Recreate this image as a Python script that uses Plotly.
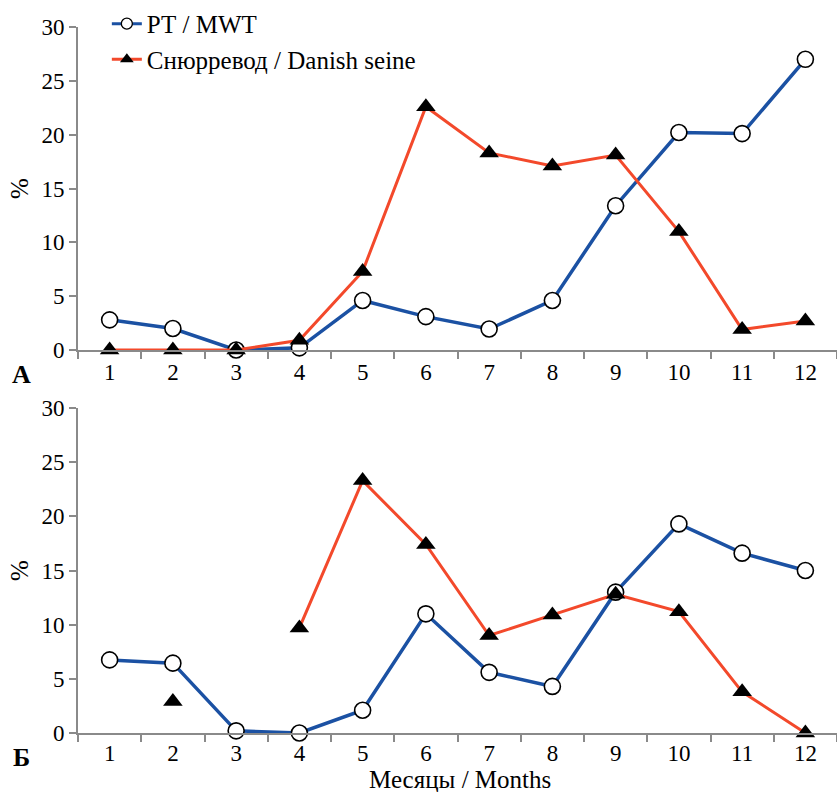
import plotly.graph_objects as go

months = ["1", "2", "3", "4", "5", "6", "7", "8", "9", "10", "11", "12"]

# Panel A
pt_a = [2.8, 2.0, 0.0, 0.2, 4.6, 3.1, 1.95, 4.6, 13.4, 20.2, 20.1, 27.0]
ds_a = [0.0, 0.0, 0.0, 0.9, 7.3, 22.6, 18.3, 17.1, 18.1, 11.0, 1.9, 2.7]

# Panel B
pt_b = [6.75, 6.45, 0.2, 0.0, 2.1, 11.0, 5.6, 4.3, 13.0, 19.3, 16.6, 15.0]
ds_b = [None, 2.9, None, 9.7, 23.3, 17.4, 9.0, 10.9, 12.8, 11.2, 3.8, 0.0]

y_ticks = [0, 5, 10, 15, 20, 25, 30]
name_pt = "РТ / MWT"
name_ds = "Снюрревод / Danish seine"
x_title = "Месяцы / Months"

BLUE = "#1b51a3"
RED = "#f3492b"
FONT = "Liberation Serif"
AXC = "#8a8a8a"

fig = go.Figure()

def add_panel(pt, ds, xa, ya):
    fig.add_trace(go.Scatter(
        x=months, y=pt, xaxis=xa, yaxis=ya, mode="lines+markers",
        line=dict(color=BLUE, width=3.5),
        marker=dict(symbol="circle", size=16, color="white",
                    line=dict(color="black", width=1.6)),
        cliponaxis=False, showlegend=False, connectgaps=False))
    fig.add_trace(go.Scatter(
        x=months, y=ds, xaxis=xa, yaxis=ya, mode="lines+markers",
        line=dict(color=RED, width=3),
        marker=dict(symbol="triangle-up", size=17, color="black",
                    line=dict(width=0)),
        cliponaxis=False, showlegend=False, connectgaps=False))

add_panel(pt_a, ds_a, "x", "y")
add_panel(pt_b, ds_b, "x2", "y2")

# legend-only entries
fig.add_trace(go.Scatter(
    x=[None], y=[None], mode="lines+markers", name=name_pt,
    line=dict(color=BLUE, width=3),
    marker=dict(symbol="circle", size=11, color="white",
                line=dict(color="black", width=1.3))))
fig.add_trace(go.Scatter(
    x=[None], y=[None], mode="lines+markers", name=name_ds,
    line=dict(color=RED, width=3),
    marker=dict(symbol="triangle-up", size=12, color="black", line=dict(width=0))))

xcommon = dict(type="category", tickson="boundaries", ticks="outside",
               ticklen=7, tickwidth=1.5, tickcolor=AXC, showline=True,
               linecolor=AXC, linewidth=2, showgrid=False, zeroline=False,
               tickfont=dict(family=FONT, size=23, color="black"),
               range=[-0.5, 11.5])
ycommon = dict(range=[0, 30], tickvals=y_ticks, ticks="outside", ticklen=7,
               tickwidth=1.5, tickcolor=AXC, showline=True, linecolor=AXC,
               linewidth=2, showgrid=False, zeroline=False,
               tickfont=dict(family=FONT, size=23, color="black"),
               title=dict(text="%", font=dict(family=FONT, size=25, color="black"),
                          standoff=6))

top_bottom = 383 / 706
bot_top = 325 / 706

fig.update_layout(
    width=837, height=792,
    margin=dict(l=78, r=0, t=27, b=59),
    paper_bgcolor="white", plot_bgcolor="white",
    xaxis=dict(**xcommon, domain=[0, 1], anchor="y"),
    yaxis=dict(**ycommon, domain=[top_bottom, 1], anchor="x"),
    xaxis2=dict(**xcommon, domain=[0, 1], anchor="y2", ticklabelstandoff=-2),
    yaxis2=dict(**ycommon, domain=[0, bot_top], anchor="x2"),
    legend=dict(x=0.038, y=1.037, xanchor="left", yanchor="top",
                font=dict(family=FONT, size=25, color="black"),
                bgcolor="rgba(0,0,0,0)", tracegroupgap=0, itemwidth=30),
    showlegend=True,
)

fig.add_annotation(text=x_title, xref="paper", yref="paper", x=0.503, y=-46 / 706,
                   xanchor="center", yanchor="middle", showarrow=False, borderpad=0,
                   font=dict(family=FONT, size=25, color="black"))
fig.add_annotation(text="<b>А</b>", xref="paper", yref="paper", x=-0.075, y=top_bottom,
                   xanchor="center", yanchor="top", yshift=-8, showarrow=False,
                   font=dict(family=FONT, size=26, color="black"))
fig.add_annotation(text="<b>Б</b>", xref="paper", yref="paper", x=-0.075, y=0,
                   xanchor="center", yanchor="top", yshift=-8, showarrow=False,
                   font=dict(family=FONT, size=26, color="black"))

fig.write_html("out.html")
